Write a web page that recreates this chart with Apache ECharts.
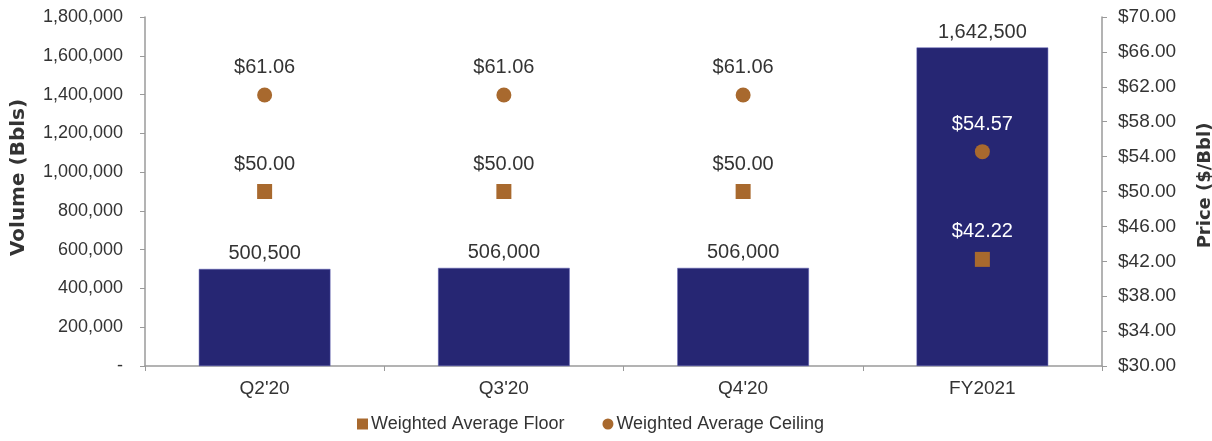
<!DOCTYPE html>
<html>
<head>
<meta charset="utf-8">
<script src="https://cdn.jsdelivr.net/npm/echarts@6/dist/echarts.min.js"></script>
<style>
  html, body { margin: 0; padding: 0; background: #fff; overflow: hidden; }
  #chart { width: 1212px; height: 441px; }
</style>
</head>
<body>
<div id="chart"></div>
<script>
// Hedged volumes and weighted-average price bands per period
const categories = ["Q2'20", "Q3'20", "Q4'20", "FY2021"];
const volumes = [500500, 506000, 506000, 1642500];
const floorPrices = [50.00, 50.00, 50.00, 42.22];
const ceilingPrices = [61.06, 61.06, 61.06, 54.57];

const volumeTicks = { min: 0, max: 1800000, interval: 200000 };
const priceTicks = { min: 30, max: 70, interval: 4 };

const barColor = '#262673';
const markerColor = '#A8692E';
const textColor = '#333333';
const axisColor = '#9a9a9a';
const fontFamily = '"Liberation Sans", Arial, sans-serif';
const titleFont = '"DejaVu Sans", "Liberation Sans", sans-serif';

const fmtVolume = v => v === 0 ? '-' : v.toLocaleString('en-US');
const fmtPrice = v => '$' + v.toFixed(2);

// Labels that sit on top of the dark bar are drawn white
function priceLabels(values) {
  return values.map((v, i) => ({
    value: v,
    label: { color: volumes[i] > 1000000 ? '#ffffff' : textColor }
  }));
}

const chart = echarts.init(document.getElementById('chart'), null, { renderer: 'canvas' });

chart.setOption({
  animation: false,
  textStyle: { fontFamily: fontFamily },
  grid: {
    left: 145, right: 110, top: 17, bottom: 75,
    containLabel: false,
    outerBoundsMode: 'none'
  },
  legend: {
    bottom: 3,
    left: 352,
    itemGap: 38,
    itemWidth: 11,
    itemHeight: 11,
    textStyle: { fontSize: 18, color: textColor, fontFamily: fontFamily, padding: [0, 0, 0, -2] },
    data: [
      { name: 'Weighted Average Floor', icon: 'rect' },
      { name: 'Weighted Average Ceiling', icon: 'circle' }
    ]
  },
  xAxis: {
    type: 'category',
    data: categories,
    axisLine: { lineStyle: { color: axisColor, width: 1.5 } },
    axisTick: { show: true, alignWithLabel: false, length: 5, lineStyle: { color: axisColor } },
    axisLabel: { fontSize: 19, color: textColor, margin: 13 }
  },
  yAxis: [
    {
      type: 'value',
      min: volumeTicks.min,
      max: volumeTicks.max,
      interval: volumeTicks.interval,
      name: 'Volume (Bbls)',
      nameLocation: 'middle',
      nameGap: 116,
      nameRotate: 90,
      nameTextStyle: {
        fontSize: 20, fontWeight: 'bold', color: textColor, fontFamily: titleFont,
        padding: [0, 0, 0, 28]
      },
      axisLine: { show: true, lineStyle: { color: axisColor, width: 1.5 } },
      axisTick: { show: true, length: 5, lineStyle: { color: axisColor } },
      splitLine: { show: false },
      axisLabel: { fontSize: 18, color: textColor, margin: 22, formatter: fmtVolume }
    },
    {
      type: 'value',
      min: priceTicks.min,
      max: priceTicks.max,
      interval: priceTicks.interval,
      position: 'right',
      name: 'Price ($/Bbl)',
      nameLocation: 'middle',
      nameGap: 94,
      nameRotate: 90,
      nameTextStyle: {
        fontSize: 18, fontWeight: 'bold', color: textColor, fontFamily: titleFont,
        padding: [0, 0, 0, 12]
      },
      axisLine: { show: true, lineStyle: { color: axisColor, width: 1.5 } },
      axisTick: { show: true, length: 5, lineStyle: { color: axisColor } },
      splitLine: { show: false },
      axisLabel: { fontSize: 19, color: textColor, margin: 16, formatter: fmtPrice }
    }
  ],
  series: [
    {
      name: 'Volume',
      type: 'bar',
      yAxisIndex: 0,
      data: volumes,
      barWidth: '55%',
      itemStyle: { color: barColor, borderColor: '#5a5ab0', borderWidth: 0.5 },
      label: {
        show: true,
        position: 'top',
        distance: 5,
        fontSize: 20,
        color: textColor,
        formatter: p => fmtVolume(p.value)
      }
    },
    {
      name: 'Weighted Average Floor',
      type: 'scatter',
      yAxisIndex: 1,
      symbol: 'rect',
      symbolSize: 15,
      data: priceLabels(floorPrices),
      itemStyle: { color: markerColor, opacity: 1 },
      label: {
        show: true,
        position: 'top',
        distance: 10,
        fontSize: 20,
        formatter: p => fmtPrice(p.value)
      },
      z: 3
    },
    {
      name: 'Weighted Average Ceiling',
      type: 'scatter',
      yAxisIndex: 1,
      symbol: 'circle',
      symbolSize: 15,
      data: priceLabels(ceilingPrices),
      itemStyle: { color: markerColor, opacity: 1 },
      label: {
        show: true,
        position: 'top',
        distance: 10,
        fontSize: 20,
        formatter: p => fmtPrice(p.value)
      },
      z: 3
    }
  ]
});
</script>
</body>
</html>
